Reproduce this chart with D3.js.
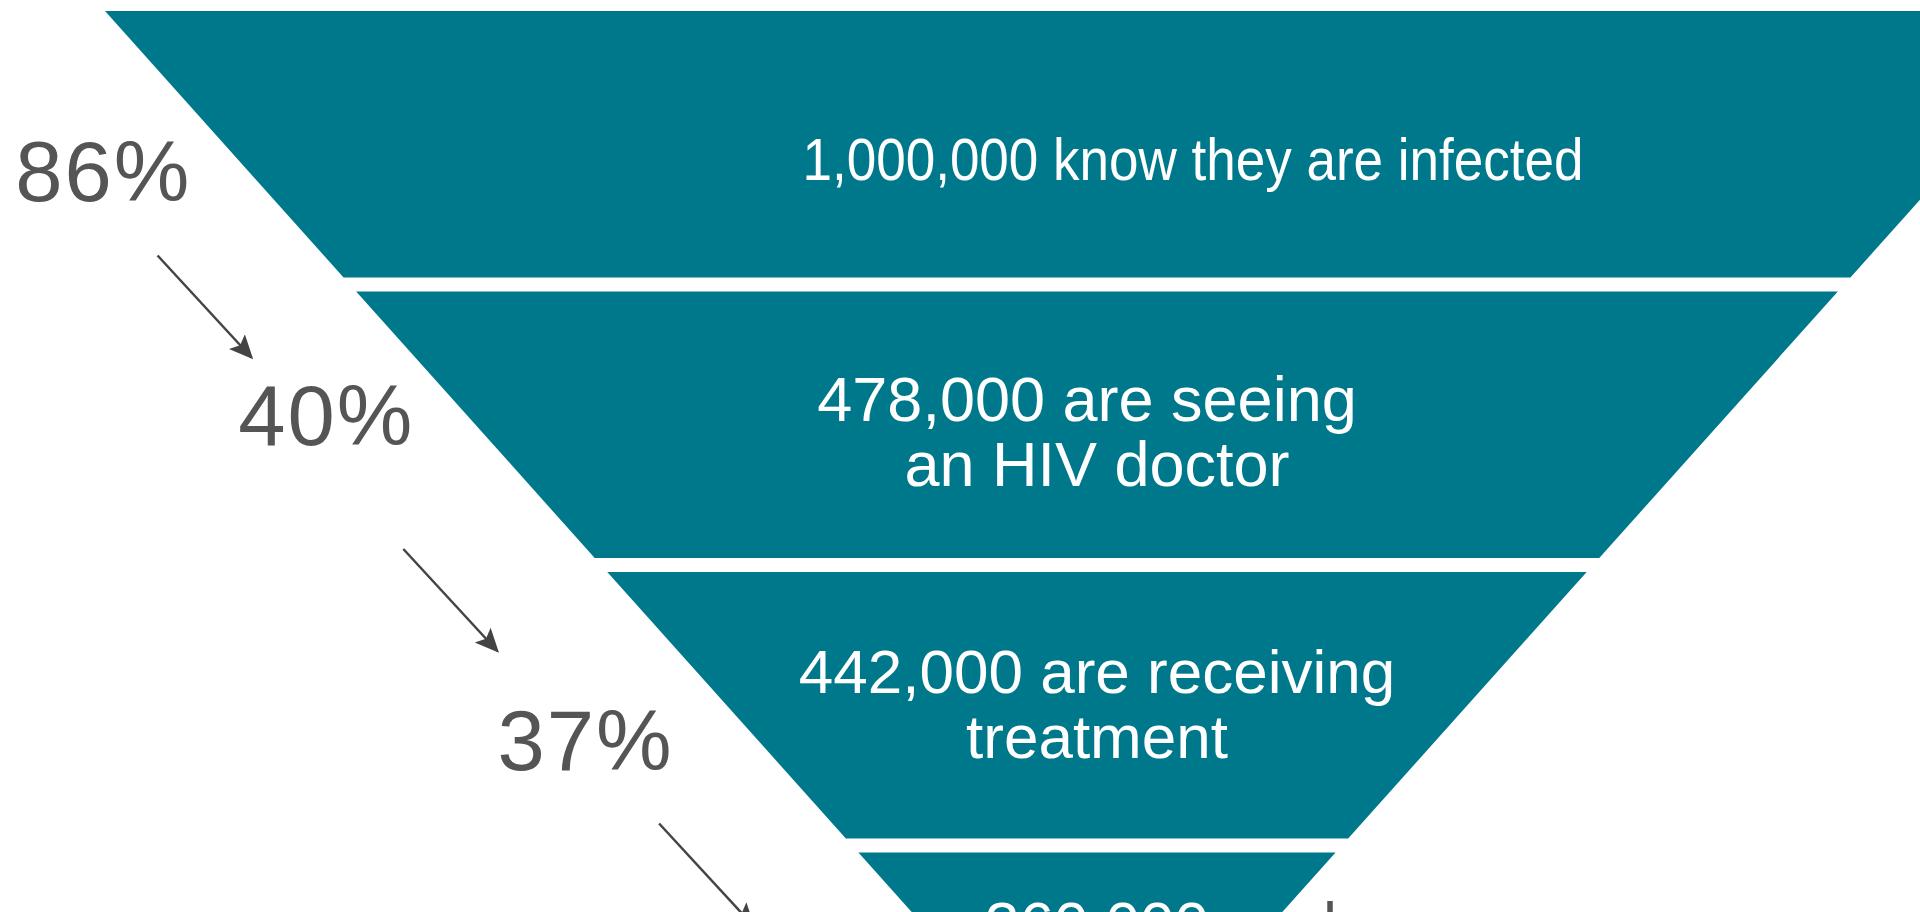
<!DOCTYPE html>
<html>
<head>
<meta charset="utf-8">
<script src="https://cdn.jsdelivr.net/npm/d3@7"></script>
<style>
  html, body { margin: 0; padding: 0; background: #ffffff; overflow: hidden; }
  svg { display: block; }
</style>
</head>
<body>
<svg id="chart" width="1920" height="912"></svg>
<script>
// Stages of the HIV care cascade, top to bottom
const stageCounts = [1000000, 478000, 442000, 360000];
const stageText = [
  ["know they are infected"],
  ["are seeing", "an HIV doctor"],
  ["are receiving", "treatment"],
  []
];
const stageNote = ["", "", "", "have"];
// Share of all people living with HIV reached at each step
const stepPercents = [86, 40, 37];

const svg = d3.select("#chart");
const fmt = d3.format(",");
const FONT = "'Liberation Sans', Arial, Helvetica, sans-serif";

// Funnel geometry: an inverted triangle cut into equal-height bands
const topY = 11, apexY = 1119, cx = 1097, topHalf = 992;
const y = d3.scaleBand()
  .domain(d3.range(stageCounts.length))
  .range([topY, apexY])
  .paddingInner(0.05);
const half = d3.scaleLinear().domain([topY, apexY]).range([topHalf, 0]);
const leftEdge = v => cx - half(v);
const mid = i => y(i) + y.bandwidth() / 2;

const teal = "#00788b";
const gray = "#555555";

svg.append("g")
  .selectAll("path")
  .data(stageCounts)
  .join("path")
  .attr("d", (d, i) => {
    const y0 = y(i), y1 = y(i) + y.bandwidth();
    return d3.line()([
      [cx - half(y0), y0], [cx + half(y0), y0],
      [cx + half(y1), y1], [cx - half(y1), y1]
    ]) + "Z";
  })
  .attr("fill", teal);

// Labels inside each band
const lineGap = 65;
// Per-band text placement: first baseline relative to band middle,
// horizontal shift of the centre (per line), font size and optional fitted width
const labelLayout = [
  { dy: 36, dx: [96], size: 60, fit: 781 },
  { dy: -4, dx: [-10, 0], size: 63 },
  { dy: -12, dx: [0, 0], size: 62 },
  { dy: 0, dx: [0], size: 62, fromTop: 92 }
];

const labels = svg.append("g")
  .attr("font-family", FONT)
  .attr("fill", "#ffffff")
  .attr("text-anchor", "middle");

stageCounts.forEach((count, i) => {
  const lay = labelLayout[i];
  const lines = stageText[i].slice();
  const first = fmt(count) + (lines.length ? " " + lines.shift() : "");
  const all = [first, ...lines];
  const base0 = lay.fromTop != null ? y(i) + lay.fromTop : mid(i) + lay.dy;
  all.forEach((t, k) => {
    const txt = labels.append("text")
      .attr("x", cx + (lay.dx[k] || 0))
      .attr("y", base0 + k * lineGap)
      .attr("font-size", lay.size)
      .text(t);
    if (lay.fit && k === 0) {
      txt.attr("textLength", lay.fit).attr("lengthAdjust", "spacingAndGlyphs");
    }
  });
  if (stageNote[i]) {
    svg.append("text")
      .attr("x", cx + half(base0 - 40) + 34)
      .attr("y", base0)
      .attr("font-family", FONT)
      .attr("font-size", lay.size)
      .attr("fill", gray)
      .text(stageNote[i]);
  }
});

// Percent labels on the left, stepping down beside the funnel
const pctLayout = [
  { dy: 57, gap: 61 },
  { dy: 20, gap: 56 },
  { dy: 65, gap: 88 }
];
const pctG = svg.append("g")
  .attr("font-family", FONT)
  .attr("font-size", 85)
  .attr("letter-spacing", 2)
  .attr("fill", gray)
  .attr("text-anchor", "end");

stepPercents.forEach((p, i) => {
  const base = mid(i) + pctLayout[i].dy;
  pctG.append("text")
    .attr("x", leftEdge(base - 28) - pctLayout[i].gap + 2)
    .attr("y", base)
    .text(p + "%");
});

// Arrows between successive percentages
const defs = svg.append("defs");
defs.append("marker")
  .attr("id", "head")
  .attr("viewBox", "0 0 10 10")
  .attr("refX", 9).attr("refY", 5)
  .attr("markerWidth", 24).attr("markerHeight", 24)
  .attr("markerUnits", "userSpaceOnUse")
  .attr("orient", "auto")
  .append("path")
  .attr("d", "M0,0.5 L10,5 L0,9.5 L2,5 Z")
  .attr("fill", "#444");

const arrowLayout = [
  { dy: 22, dx: -165 },
  { dy: 35, dx: -182 },
  { dy: 29, dx: -172 }
];
stepPercents.forEach((p, i) => {
  const gy = y(i) + y.bandwidth() + (y.step() - y.bandwidth()) / 2 + arrowLayout[i].dy;
  const mx = leftEdge(gy) + arrowLayout[i].dx;
  svg.append("line")
    .attr("x1", mx - 47).attr("y1", gy - 51)
    .attr("x2", mx + 47).attr("y2", gy + 51)
    .attr("stroke", "#444")
    .attr("stroke-width", 2.5)
    .attr("marker-end", "url(#head)");
});
</script>
</body>
</html>
